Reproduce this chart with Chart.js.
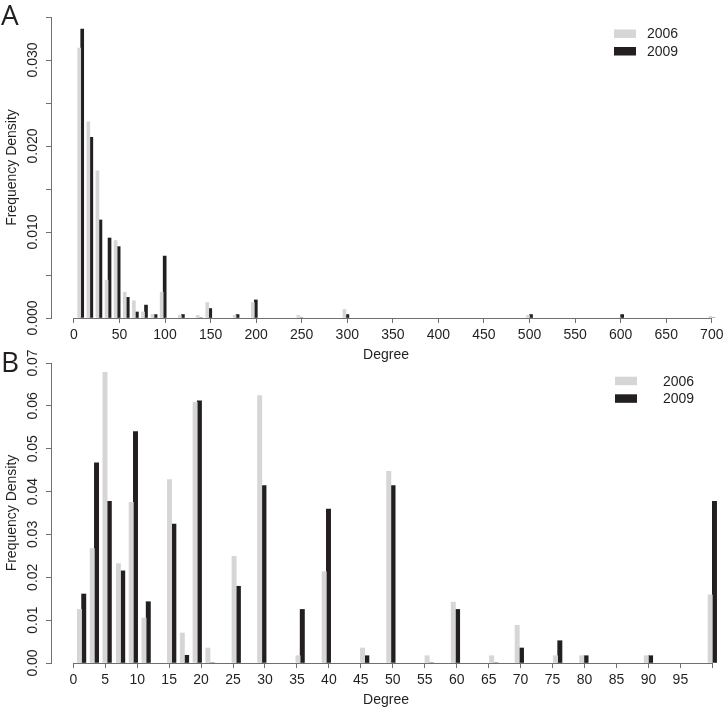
<!DOCTYPE html>
<html>
<head>
<meta charset="utf-8">
<script src="https://cdn.jsdelivr.net/npm/chart.js@4.4.0/dist/chart.umd.min.js"></script>
<style>
html, body { margin: 0; padding: 0; background: #fff; overflow: hidden; width: 725px; height: 713px; }
canvas { position: absolute; left: 0; }
.tag { position: absolute; left: 1px; font-family: "Open Sans", sans-serif; font-size: 28px; line-height: 1; color: #231f20; }
</style>
</head>
<body>
<canvas id="chartA" width="740" height="368" style="top:0px"></canvas>
<canvas id="chartB" width="740" height="373" style="top:340px"></canvas>
<div class="tag" style="top:0px">A</div>
<div class="tag" style="top:347px">B</div>
<script>
// series
const seriesNames = ['2006', '2009'];

// panel A: all degrees
const degreeA = [7.5, 17.5, 27.5, 37.5, 47.5, 57.5, 67.5, 77.5, 88, 98, 118, 137.5, 148, 178, 198, 248, 298.5, 500, 600, 700];
const dens2006A = [0.0314, 0.0228, 0.0171, 0.0044, 0.0090, 0.0030, 0.0020, 0.0007, 0.0004, 0.0030, 0.0003, 0.0003, 0.0018, 0.0003, 0.0018, 0.0003, 0.0010, 0.0003, 0, 0.0002];
const dens2009A = [0.0336, 0.0210, 0.0114, 0.0093, 0.0083, 0.0024, 0.0007, 0.0015, 0.0004, 0.0072, 0.0004, 0, 0.0011, 0.0004, 0.0021, 0, 0.0004, 0.0004, 0.0004, 0];
const xTicksA = [0, 50, 100, 150, 200, 250, 300, 350, 400, 450, 500, 550, 600, 650, 700];
const xLabelsA = ['0', '50', '100', '150', '200', '250', '300', '350', '400', '450', '500', '550', '600', '650', '700'];
const yTicksA = [0, 0.005, 0.01, 0.015, 0.02, 0.025, 0.03, 0.035];
const yLabelsA = ['0.000', '', '0.010', '', '0.020', '', '0.030', ''];

// panel B: degree up to 100
const degreeB = [1.3, 3.3, 5.3, 7.4, 9.4, 11.4, 15.4, 17.4, 19.4, 21.4, 25.5, 29.5, 35.5, 39.6, 45.6, 49.7, 55.7, 59.8, 65.8, 69.8, 75.8, 79.9, 90, 100];
const dens2006B = [0.0125, 0.0267, 0.0678, 0.0232, 0.0375, 0.0105, 0.0428, 0.0070, 0.0608, 0.0035, 0.0249, 0.0624, 0.0017, 0.0213, 0.0035, 0.0447, 0.0017, 0.0142, 0.0017, 0.0088, 0.0017, 0.0017, 0.0017, 0.0159];
const dens2009B = [0.0161, 0.0467, 0.0377, 0.0215, 0.0540, 0.0143, 0.0324, 0.0018, 0.0612, 0, 0.0179, 0.0414, 0.0125, 0.0359, 0.0017, 0.0414, 0, 0.0125, 0, 0.0035, 0.0052, 0.0017, 0.0017, 0.0377];
const xTicksB = [0, 5, 10, 15, 20, 25, 30, 35, 40, 45, 50, 55, 60, 65, 70, 75, 80, 85, 90, 95, 100];
const xLabelsB = ['0', '5', '10', '15', '20', '25', '30', '35', '40', '45', '50', '55', '60', '65', '70', '75', '80', '85', '90', '95', ''];
const yTicksB = [0, 0.01, 0.02, 0.03, 0.04, 0.05, 0.06, 0.07];
const yLabelsB = ['0.00', '0.01', '0.02', '0.03', '0.04', '0.05', '0.06', '0.07'];

const barColors = ['#d6d6d6', '#231f20'];
const axisGrey = '#707070';
const textCol = '#231f20';
const font = { family: '"Liberation Sans", Arial, sans-serif', size: 14 };

// R-style axis lines: only between first and last tick
const axisLines = {
  id: 'axisLines',
  afterDatasetsDraw(chart) {
    const { ctx, scales: { x, y }, chartArea } = chart;
    const xt = x.ticks, yt = y.ticks;
    const yb = Math.round(chartArea.bottom) + 0.5;
    const xl = Math.round(chartArea.left) - 0.5;
    ctx.save();
    ctx.strokeStyle = axisGrey;
    ctx.lineWidth = 1;
    ctx.beginPath();
    ctx.moveTo(x.getPixelForValue(xt[0].value), yb);
    ctx.lineTo(x.getPixelForValue(xt[xt.length - 1].value), yb);
    ctx.moveTo(xl, y.getPixelForValue(yt[0].value));
    ctx.lineTo(xl, y.getPixelForValue(yt[yt.length - 1].value));
    ctx.stroke();
    ctx.restore();
  }
};

// legend without frame, placed inside the plot
const keyBox = {
  id: 'keyBox',
  afterDraw(chart, args, opts) {
    const { ctx } = chart;
    ctx.save();
    ctx.font = font.size + 'px ' + font.family;
    ctx.textBaseline = 'middle';
    ctx.textAlign = 'left';
    chart.data.datasets.forEach((ds, i) => {
      const top = opts.y + i * opts.step;
      ctx.fillStyle = ds.backgroundColor;
      ctx.fillRect(opts.x, top, 22, 8.5);
      ctx.fillStyle = textCol;
      ctx.fillText(ds.label, opts.textX, top + 5);
    });
    ctx.restore();
  }
};

function makeChart(id, p) {
  return new Chart(document.getElementById(id), {
    type: 'bar',
    data: {
      datasets: [
        { label: seriesNames[0], data: p.x.map((v, i) => ({ x: v, y: p.a[i] })), backgroundColor: barColors[0], barThickness: p.barW },
        { label: seriesNames[1], data: p.x.map((v, i) => ({ x: v, y: p.b[i] })), backgroundColor: barColors[1], barThickness: p.barW }
      ]
    },
    options: {
      responsive: false,
      animation: false,
      layout: { padding: { top: p.padTop, right: 20, bottom: 0, left: 0 } },
      plugins: {
        legend: { display: false },
        tooltip: { enabled: false },
        keyBox: p.key
      },
      scales: {
        x: {
          type: 'linear',
          min: p.xMin,
          max: p.xMax,
          offset: false,
          afterBuildTicks: s => { s.ticks = p.xTicks.map(v => ({ value: v })); },
          afterFit: s => { s.height = 50; },
          border: { display: false },
          grid: { drawOnChartArea: false, offset: false, tickLength: 5, color: axisGrey },
          ticks: { autoSkip: false, maxRotation: 0, padding: 4, font, color: textCol, callback: (v, i) => p.xLabels[i] },
          title: { display: true, text: 'Degree', font, color: textCol, padding: { top: 0, bottom: 4 } }
        },
        y: {
          min: 0,
          max: p.yMax,
          afterBuildTicks: s => { s.ticks = p.yTicks.map(v => ({ value: v })); },
          afterFit: s => { s.width = 52; },
          border: { display: false },
          grid: { drawOnChartArea: false, tickLength: 6, color: axisGrey },
          ticks: { autoSkip: false, minRotation: 90, maxRotation: 90, crossAlign: 'center', padding: p.yPad, font, color: textCol, callback: (v, i) => p.yLabels[i] },
          title: { display: true, text: 'Frequency Density', font, color: textCol, padding: { top: 4, bottom: 0 } }
        }
      }
    },
    plugins: [axisLines, keyBox]
  });
}

makeChart('chartA', {
  x: degreeA, a: dens2006A, b: dens2009A, barW: 3,
  xMin: -24, xMax: 709, xTicks: xTicksA, xLabels: xLabelsA,
  yMax: 0.035, yTicks: yTicksA, yLabels: yLabelsA, yPad: -4.5,
  padTop: 17,
  key: { x: 614, y: 29.5, step: 17.5, textX: 647 }
});

makeChart('chartB', {
  x: degreeB, a: dens2006B, b: dens2009B, barW: 4.3,
  xMin: -3.33, xMax: 101.2, xTicks: xTicksB, xLabels: xLabelsB,
  yMax: 0.07, yTicks: yTicksB, yLabels: yLabelsB, yPad: -0.6,
  padTop: 23,
  key: { x: 615, y: 36.7, step: 17.6, textX: 663 }
});
</script>
</body>
</html>
